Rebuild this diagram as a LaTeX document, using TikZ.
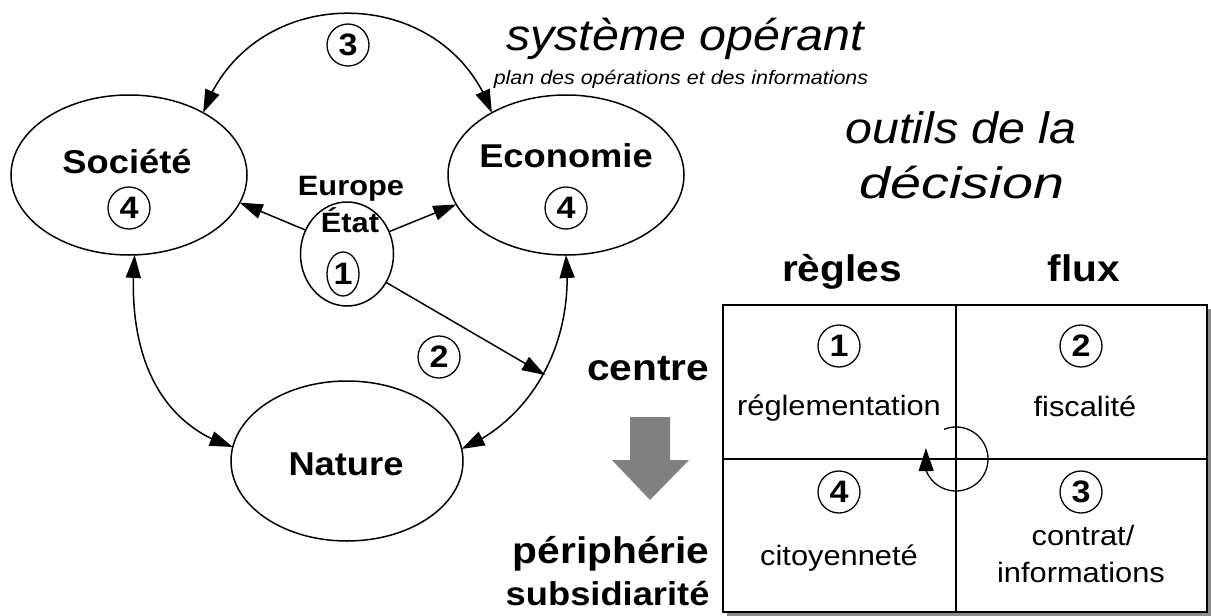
\documentclass[tikz,border=0pt]{standalone}
\usepackage{fontspec}
\setmainfont[FakeStretch=1.1]{Liberation Sans}
\usetikzlibrary{arrows.meta,bending,shapes.geometric}

\tikzset{
  tip/.tip={Triangle[length=23pt,width=15pt]},
  ell/.style={draw, ellipse, line width=1.5pt, inner sep=0pt, outer sep=0pt},
  bigbold/.style={font=\fontsize{33}{38}\selectfont\bfseries},
  sidebold/.style={font=\fontsize{37}{42}\selectfont\bfseries},
  midbold/.style={font=\fontsize{28}{32}\selectfont\bfseries},
  bigit/.style={font=\fontsize{44}{50}\selectfont\itshape},
  smallit/.style={font=\fontsize{19.5}{23}\selectfont\itshape},
  celltext/.style={font=\fontsize{28}{32}\selectfont},
  num/.style={draw, circle, line width=1.3pt, minimum size=42pt, inner sep=0pt,
              font=\fontsize{31}{34}\selectfont\bfseries},
  arr/.style={-tip, line width=1.5pt},
  both/.style={tip-tip, line width=1.5pt},
}

\begin{document}
\begin{tikzpicture}[x=1pt,y=-1pt]
\useasboundingbox (0,0) rectangle (1211,616);

% --- the three spheres and the central actor ---
\node[ell, minimum width=236pt, minimum height=160pt] (soc) at (129,175) {};
\node[ell, minimum width=236pt, minimum height=160pt] (eco) at (566,175) {};
\node[ell, minimum width=232pt, minimum height=160pt] (nat) at (347,461) {};
\node[ell, minimum width=93pt, minimum height=104pt] (eur) at (347,254) {};

\node[bigbold, anchor=base] (socl) at (127,173) {Société};
\node[num] (soc4) at (129,208) {4};
\node[bigbold, anchor=base] (ecol) at (566,167) {Economie};
\node[num] (eco4) at (566,208) {4};
\node[bigbold, anchor=base] (natl) at (346,475) {Nature};
\node[midbold, anchor=base] (eurl) at (351,195) {Europe};
\node[midbold, anchor=base] (etat) at (350,232) {État};
\node[num, ellipse, minimum width=32pt, minimum height=44pt] (eur1) at (343,274) {1};

\node[num] (n2) at (439,357) {2};
\node[num] (n3) at (348,45) {3};

% --- connectors ---
\coordinate (meet) at (545,375);
\draw[arr] (eur.150) -- (soc.-14);
\draw[arr] (eur.28) -- (eco.-165);
\draw[arr] (eur.-36) -- (meet);
\draw[both] (soc.40) .. controls (250,-20) and (445,-20) .. (eco.140);
\draw[both] (soc.-86) .. controls (126,355) and (160,425) .. (nat.173);
\draw[both] (eco.-90) .. controls (575,345) and (530,420) .. (nat.6);

% --- titles ---
\node[bigit, anchor=base] (title) at (685,50) {système opérant};
\node[smallit, anchor=base] (subtitle) at (681,84) {plan des opérations et des informations};
\node[bigit, anchor=base] (tools1) at (961,143) {outils de la};
\node[bigit, anchor=base] (tools2) at (962,198) {\scalebox{1.15}[1]{décision}};

% --- decision tools table ---
\node[sidebold, anchor=base] (rules) at (842,281) {règles};
\node[sidebold, anchor=base] (flows) at (1084,281) {flux};
\node[sidebold, anchor=base east] (centre) at (713,380) {centre};
\node[sidebold, anchor=base east] (periph) at (713,563) {périphérie};
\node[bigbold, anchor=base east] (subsid) at (713,605) {subsidiarité};

% gray downward arrow from centre to periphery
\fill[black!50] (630,417) -- (670,417) -- (670,460) -- (689,460) -- (650,500)
  -- (612,460) -- (630,460) -- cycle;

% table with its shadow
\fill[black!45] (727,309) rectangle (1211,616);
\node[draw, fill=white, line width=1.8pt, inner sep=0pt, outer sep=0pt,
      minimum width=484pt, minimum height=307pt, anchor=north west] (tab) at (723,305) {};
\coordinate (mid) at (956,459);
\draw[line width=1.8pt] (mid |- tab.north) -- (mid |- tab.south);
\draw[line width=1.8pt] (mid -| tab.west) -- (mid -| tab.east);

\node[num] (c1) at (839,346) {1};
\node[celltext, anchor=base] (c1t) at (839,415) {réglementation};
\node[num] (c2) at (1081,346) {2};
\node[celltext, anchor=base] (c2t) at (1085,416) {fiscalité};
\node[num] (c4) at (839,492) {4};
\node[celltext, anchor=base] (c4t) at (839,565) {citoyenneté};
\node[num] (c3) at (1081,492) {3};
\node[celltext, anchor=base] (c3a) at (1083,545) {contrat/};
\node[celltext, anchor=base] (c3b) at (1081,582) {informations};

% cycle through the four tools
\draw[-{Triangle[length=23pt,width=15pt]}, line width=1.3pt]
  (mid) ++(-112:32) arc[start angle=-112, end angle=200, radius=32];
\end{tikzpicture}
\end{document}
